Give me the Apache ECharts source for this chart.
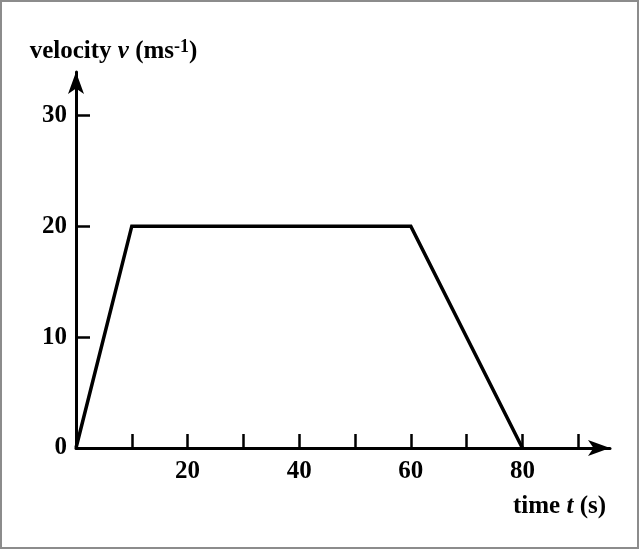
<!DOCTYPE html>
<html>
<head>
<meta charset="utf-8">
<script src="https://cdn.jsdelivr.net/npm/echarts@6/dist/echarts.min.js"></script>
<style>
html,body{margin:0;padding:0;background:#fff;}
#chart{width:640px;height:550px;}
</style>
</head>
<body>
<div id="chart"></div>
<script>
// data
var timeValues = [0, 10, 60, 80];
var velocityValues = [0, 20, 20, 0];
var xTickValues = [10, 20, 30, 40, 50, 60, 70, 80, 90];
var xLabelValues = [20, 40, 60, 80];
var yTickValues = [10, 20, 30];
var yLabelValues = [0, 10, 20, 30];

var points = timeValues.map(function (t, i) { return [t, velocityValues[i]]; });
var FONT = '"Liberation Serif", "Times New Roman", serif';

var chart = echarts.init(document.getElementById('chart'));
chart.setOption({
  animation: false,
  backgroundColor: '#fff',
  graphic: [{
    type: 'rect', silent: true, z: -1,
    shape: { x: 1, y: 1, width: 637, height: 547 },
    style: { fill: 'none', stroke: '#8c8c8c', lineWidth: 2 }
  }],
  grid: { left: 76, right: 30, top: 72, bottom: 102, containLabel: false },
  xAxis: {
    type: 'value', min: 0, max: 95.7, interval: 10,
    splitLine: { show: false },
    axisLine: { show: true, symbol: ['none', 'arrow'], symbolSize: [12, 22], symbolOffset: [0, 0],
      lineStyle: { color: '#000', width: 3 } },
    axisTick: { show: true, inside: true, length: 14, customValues: xTickValues,
      lineStyle: { color: '#000', width: 2.5 } },
    axisLabel: { customValues: xLabelValues, margin: 11, color: '#000',
      fontFamily: FONT, fontWeight: 'bold', fontSize: 25 },
    name: 'time {i|t} (s)',
    nameLocation: 'end', nameGap: -97,
    nameTextStyle: { color: '#000', fontFamily: FONT, fontWeight: 'bold', fontSize: 25,
      align: 'left', verticalAlign: 'top', padding: [46, 0, 0, 0],
      rich: { i: { fontStyle: 'italic', fontFamily: FONT, fontWeight: 'bold', fontSize: 25, color: '#000' } } }
  },
  yAxis: {
    type: 'value', min: 0, max: 33.9, interval: 10,
    splitLine: { show: false },
    axisLine: { show: true, symbol: ['none', 'arrow'], symbolSize: [12, 22], symbolOffset: [0, 0],
      lineStyle: { color: '#000', width: 3 } },
    axisTick: { show: true, inside: true, length: 14, customValues: yTickValues,
      lineStyle: { color: '#000', width: 2.5 } },
    axisLabel: { customValues: yLabelValues, margin: 9, color: '#000',
      fontFamily: FONT, fontWeight: 'bold', fontSize: 25 },
    name: '{a|velocity }{i|v}{a| (ms}{s|-1}{a|)}',
    nameLocation: 'end', nameGap: 8,
    nameTextStyle: { align: 'center', verticalAlign: 'bottom', padding: [0, 0, 0, 75],
      rich: {
        a: { fontFamily: FONT, fontWeight: 'bold', fontSize: 25, color: '#000', verticalAlign: 'bottom' },
        i: { fontFamily: FONT, fontWeight: 'bold', fontStyle: 'italic', fontSize: 25, color: '#000', verticalAlign: 'bottom' },
        s: { fontFamily: FONT, fontWeight: 'bold', fontSize: 18, color: '#000', verticalAlign: 'bottom', padding: [0, 0, 8, 0] }
      } }
  },
  series: [{
    type: 'line', data: points, symbol: 'none', clip: false,
    lineStyle: { color: '#000', width: 3.5, join: 'miter' }
  }]
});
</script>
</body>
</html>
